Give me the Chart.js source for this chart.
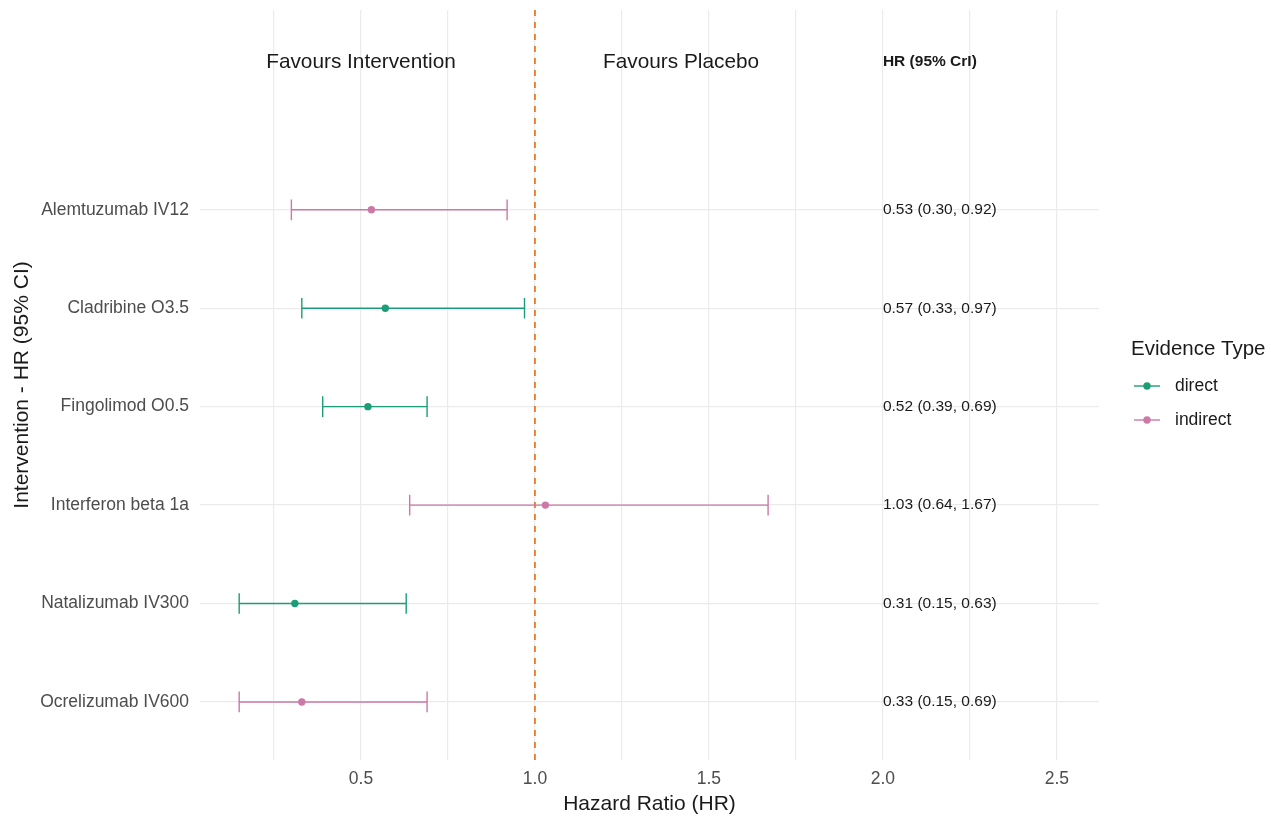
<!DOCTYPE html>
<html>
<head>
<meta charset="utf-8">
<script src="https://cdn.jsdelivr.net/npm/chart.js@4.4.1/dist/chart.umd.min.js"></script>
<style>
  html, body { margin: 0; padding: 0; background: #fff; }
  #wrap { width: 1271px; height: 818px; }
</style>
</head>
<body>
<div id="wrap"><canvas id="forest" width="1271" height="818"></canvas></div>
<script>
// data
const treatments = ["Alemtuzumab IV12", "Cladribine O3.5", "Fingolimod O0.5", "Interferon beta 1a", "Natalizumab IV300", "Ocrelizumab IV600"];
const hrValues = [0.53, 0.57, 0.52, 1.03, 0.31, 0.33];
const lowerCI = [0.30, 0.33, 0.39, 0.64, 0.15, 0.15];
const upperCI = [0.92, 0.97, 0.69, 1.67, 0.63, 0.69];
const evidence = ["indirect", "direct", "direct", "indirect", "direct", "indirect"];
const evidenceTypes = ["direct", "indirect"];
const xTicks = [0.25, 0.5, 0.75, 1.0, 1.25, 1.5, 1.75, 2.0, 2.25, 2.5];
const refLine = 1.0;
const headerLabels = ["Favours Intervention", "Favours Placebo"];
const headerX = [0.5, 1.42];
const headerY = 7.5;
const hrColumnX = 2.0;
const hrColumnTitle = "HR (95% CrI)";

const colors = { direct: "#1B9E77", indirect: "#CC79A7" };
const FONT = "'Liberation Sans', Arial, sans-serif";

const rowPos = treatments.map((_, i) => treatments.length - i);
const hrLabels = treatments.map((_, i) =>
  `${hrValues[i].toFixed(2)} (${lowerCI[i].toFixed(2)}, ${upperCI[i].toFixed(2)})`);

const datasets = evidenceTypes.map(type => ({
  label: type,
  data: treatments.map((_, i) => ({ x: hrValues[i], y: rowPos[i] })).filter((_, i) => evidence[i] === type),
  backgroundColor: colors[type],
  borderColor: colors[type],
  pointRadius: 3.7,
  pointBorderWidth: 0,
  showLine: false
}));

const errorBars = {
  id: "errorBars",
  beforeDatasetsDraw(chart) {
    const { ctx, chartArea, scales: { x, y } } = chart;
    ctx.save();
    // reference line at HR = 1
    ctx.strokeStyle = "#E8731F";
    ctx.lineWidth = 1.7;
    ctx.setLineDash([6, 6]);
    const rx = x.getPixelForValue(refLine);
    ctx.beginPath();
    ctx.moveTo(rx, chartArea.top);
    ctx.lineTo(rx, chartArea.bottom);
    ctx.stroke();
    ctx.setLineDash([]);
    // whiskers
    ctx.lineWidth = 1.4;
    treatments.forEach((_, i) => {
      const yp = y.getPixelForValue(rowPos[i]);
      const capTop = y.getPixelForValue(rowPos[i] + 0.105);
      const capBot = y.getPixelForValue(rowPos[i] - 0.105);
      const x0 = x.getPixelForValue(lowerCI[i]);
      const x1 = x.getPixelForValue(upperCI[i]);
      ctx.strokeStyle = colors[evidence[i]];
      ctx.beginPath();
      ctx.moveTo(x0, yp); ctx.lineTo(x1, yp);
      ctx.moveTo(x0, capTop); ctx.lineTo(x0, capBot);
      ctx.moveTo(x1, capTop); ctx.lineTo(x1, capBot);
      ctx.stroke();
    });
    ctx.restore();
  }
};

const annotations = {
  id: "annotations",
  afterDatasetsDraw(chart) {
    const { ctx, scales: { x, y } } = chart;
    ctx.save();
    ctx.textBaseline = "middle";
    ctx.fillStyle = "#1a1a1a";
    ctx.textAlign = "center";
    ctx.font = `20.8px ${FONT}`;
    headerLabels.forEach((t, i) => {
      ctx.fillText(t, x.getPixelForValue(headerX[i]), y.getPixelForValue(headerY));
    });
    ctx.textAlign = "left";
    ctx.font = `bold 15.5px ${FONT}`;
    ctx.fillText(hrColumnTitle, x.getPixelForValue(hrColumnX), y.getPixelForValue(headerY));
    ctx.font = `15.5px ${FONT}`;
    hrLabels.forEach((t, i) => {
      ctx.fillText(t, x.getPixelForValue(hrColumnX), y.getPixelForValue(rowPos[i]));
    });
    ctx.restore();
  }
};

const sideLegend = {
  id: "sideLegend",
  afterDraw(chart) {
    const { ctx } = chart;
    const left = chart.chartArea.right + 32;
    ctx.save();
    ctx.textBaseline = "middle";
    ctx.textAlign = "left";
    ctx.fillStyle = "#1a1a1a";
    ctx.font = `20.5px ${FONT}`;
    ctx.fillText("Evidence Type", left, 349);
    ctx.font = `17.5px ${FONT}`;
    evidenceTypes.forEach((type, i) => {
      const yy = 386 + i * 34;
      ctx.strokeStyle = colors[type];
      ctx.lineWidth = 1.4;
      ctx.beginPath();
      ctx.moveTo(left + 3, yy); ctx.lineTo(left + 29, yy);
      ctx.stroke();
      ctx.fillStyle = colors[type];
      ctx.beginPath();
      ctx.arc(left + 16, yy, 3.7, 0, Math.PI * 2);
      ctx.fill();
      ctx.fillStyle = "#1a1a1a";
      ctx.fillText(type, left + 44, yy);
    });
    ctx.restore();
  }
};

Chart.defaults.font.family = FONT;

new Chart(document.getElementById("forest"), {
  type: "scatter",
  data: { datasets },
  options: {
    responsive: false,
    animation: false,
    layout: { padding: { top: 10, right: 172, left: 0, bottom: 0 } },
    plugins: { legend: { display: false }, tooltip: { enabled: false } },
    scales: {
      x: {
        type: "linear",
        min: 0.0374,
        max: 2.621,
        afterBuildTicks: s => { s.ticks = xTicks.map(v => ({ value: v })); },
        afterFit: s => { s.height = 58; s.paddingLeft = 0; s.paddingRight = 0; },
        grid: { color: "#EBEBEB", lineWidth: 1.2, drawTicks: false },
        border: { display: false },
        ticks: {
          padding: 9,
          color: "#4D4D4D",
          font: { size: 17.5 },
          maxRotation: 0,
          autoSkip: false,
          callback: v => Math.abs(v * 2 - Math.round(v * 2)) < 1e-9 ? v.toFixed(1) : ""
        },
        title: {
          display: true,
          text: "Hazard Ratio (HR)",
          color: "#1a1a1a",
          font: { size: 21 },
          padding: { top: 1, bottom: 1 }
        }
      },
      y: {
        type: "linear",
        min: 0.41,
        max: 8.03,
        afterBuildTicks: s => { s.ticks = rowPos.map(v => ({ value: v })); },
        afterFit: s => { s.width = 200; s.paddingTop = 0; s.paddingBottom = 0; },
        grid: { color: "#EBEBEB", lineWidth: 1.2, drawTicks: false },
        border: { display: false },
        ticks: {
          padding: 11,
          color: "#4D4D4D",
          font: { size: 17.5 },
          autoSkip: false,
          callback: v => treatments[treatments.length - v]
        },
        title: {
          display: true,
          text: "Intervention - HR (95% CI)",
          color: "#1a1a1a",
          font: { size: 21 },
          padding: { top: 10, bottom: 0 }
        }
      }
    }
  },
  plugins: [errorBars, annotations, sideLegend]
});
</script>
</body>
</html>
